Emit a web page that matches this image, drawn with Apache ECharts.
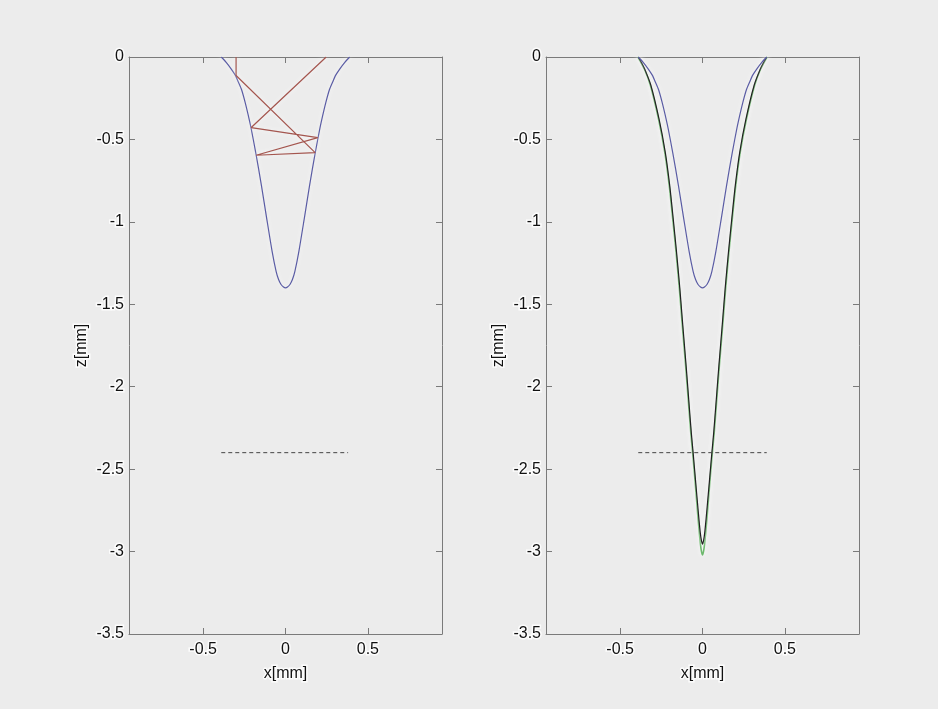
<!DOCTYPE html>
<html>
<head>
<meta charset="utf-8">
<script src="https://cdn.jsdelivr.net/npm/echarts@6/dist/echarts.min.js"></script>
<style>
html,body{margin:0;padding:0;background:#ececec;}
#c{width:938px;height:709px;}
</style>
</head>
<body>
<div id="c"></div>
<script>
// ---- data ----
// x tick values and z tick values
var xTicks = [-0.5, 0, 0.5];
var zTicks = [0, -0.5, -1, -1.5, -2, -2.5, -3, -3.5];

// blue profile (shallow crater), half-profile: depth z and half-width
var blueZ = [0, -0.032, -0.073, -0.113, -0.15, -0.2, -0.275, -0.35, -0.432, -0.578, -0.78, -0.98, -1.18, -1.30, -1.35, -1.38, -1.395, -1.40];
var blueW = [0.39, 0.36, 0.329, 0.303, 0.287, 0.266, 0.245, 0.227, 0.209, 0.181, 0.146, 0.114, 0.081, 0.057, 0.042, 0.027, 0.012, 0];

// black profile (deep crater)
var blackZ = [0, -0.035, -0.073, -0.17, -0.376, -0.578, -0.78, -0.98, -1.18, -1.4, -1.6, -1.879, -2.1, -2.28, -2.4, -2.55, -2.687, -2.8, -2.89, -2.93, -2.955];
var blackW = [0.39, 0.37, 0.351, 0.314, 0.264, 0.226, 0.199, 0.178, 0.158, 0.138, 0.122, 0.099, 0.082, 0.068, 0.057, 0.044, 0.032, 0.022, 0.013, 0.007, 0];

// green profile (slightly deeper)
var greenZ = [0, -0.073, -0.17, -0.376, -0.578, -0.78, -0.98, -1.18, -1.4, -1.6, -1.879, -2.1, -2.28, -2.4, -2.55, -2.687, -2.8, -2.89, -2.96, -3.0, -3.02];
var greenW = [0.392, 0.353, 0.317, 0.267, 0.229, 0.202, 0.181, 0.161, 0.141, 0.125, 0.102, 0.085, 0.071, 0.060, 0.047, 0.036, 0.027, 0.019, 0.012, 0.006, 0];

// reflected ray path (left panel)
var rayX = [-0.30, -0.30, 0.18, -0.178, 0.196, -0.208, 0.247];
var rayZ = [0, -0.112, -0.58, -0.596, -0.489, -0.428, 0];

// dashed reference depth lines
var dashLeftX = [-0.39, 0.38];
var dashRightX = [-0.39, 0.39];
var dashZ = -2.4;

// ---- build point lists ----
function profile(zs, ws) {
  var pts = [];
  for (var i = 0; i < zs.length; i++) pts.push([-ws[i], zs[i]]);
  for (var j = zs.length - 2; j >= 0; j--) pts.push([ws[j], zs[j]]);
  return pts;
}
function pairs(xs, zs) {
  var p = [];
  for (var i = 0; i < xs.length; i++) p.push([xs[i], zs[i]]);
  return p;
}

var FONT = 'Liberation Sans, Arial, Helvetica, sans-serif';
var AXC = '#7a7a7a';
var TXT = {fontFamily: FONT, fontSize: 16, color: '#111', textBorderColor: 'rgba(255,255,255,0.85)', textBorderWidth: 3};

function xAxes(gi) {
  var base = {
    type: 'value', gridIndex: gi, min: -0.95, max: 0.95,
    axisLine: {show: true, onZero: false, lineStyle: {color: AXC, width: 1}},
    axisTick: {show: true, inside: true, length: 6, customValues: xTicks, lineStyle: {color: AXC}},
    splitLine: {show: false}
  };
  var bottom = Object.assign({}, base, {
    position: 'bottom',
    name: 'x[mm]', nameLocation: 'middle', nameGap: 27,
    nameTextStyle: TXT,
    axisLabel: Object.assign({show: true, customValues: xTicks, margin: 8}, TXT)
  });
  var top = Object.assign({}, base, {position: 'top', axisLabel: {show: false}});
  return [bottom, top];
}
function yAxes(gi) {
  var base = {
    type: 'value', gridIndex: gi, min: -3.5, max: 0, interval: 0.5,
    axisLine: {show: true, onZero: false, lineStyle: {color: AXC, width: 1}},
    axisTick: {show: true, inside: true, length: 6, lineStyle: {color: AXC}},
    splitLine: {show: false}
  };
  var left = Object.assign({}, base, {
    position: 'left',
    name: 'z[mm]', nameLocation: 'middle', nameGap: 38, nameRotate: 90,
    nameTextStyle: TXT,
    axisLabel: Object.assign({show: true, margin: 5, customValues: zTicks}, TXT)
  });
  var right = Object.assign({}, base, {position: 'right', axisLabel: {show: false}});
  return [left, right];
}

var xa = xAxes(0).concat(xAxes(1));
var ya = yAxes(0).concat(yAxes(1));

function line(data, xi, yi, color, width, extra) {
  return Object.assign({
    type: 'line', xAxisIndex: xi, yAxisIndex: yi, data: data,
    showSymbol: false, symbol: 'none', smooth: 0.25, animation: false,
    lineStyle: {color: color, width: width, shadowColor: 'rgba(255,255,255,0.9)', shadowBlur: 5}, silent: true
  }, extra || {});
}

var option = {
  backgroundColor: '#ececec',
  animation: false,
  grid: [
    {left: 129, top: 57, width: 313, height: 577},
    {left: 546, top: 57, width: 313, height: 577}
  ],
  xAxis: xa,
  yAxis: ya,
  series: [
    line(profile(blueZ, blueW), 0, 0, '#5a5ca4', 1.2),
    line(pairs(rayX, rayZ), 0, 0, '#a4564f', 1.2, {smooth: false}),
    line(pairs(dashLeftX, [dashZ, dashZ]), 0, 0, '#444', 1, {smooth: false, lineStyle: {color: '#444', width: 1, type: [4, 3]}}),
    line(profile(greenZ, greenW), 2, 2, '#6cb86c', 1.6),
    line(profile(blackZ, blackW), 2, 2, '#222', 1.2),
    line(profile(blueZ, blueW), 2, 2, '#5a5ca4', 1.2),
    line(pairs(dashRightX, [dashZ, dashZ]), 2, 2, '#444', 1, {smooth: false, lineStyle: {color: '#444', width: 1, type: [4, 3]}})
  ]
};
var chart = echarts.init(document.getElementById('c'), null, {renderer: 'canvas'});
chart.setOption(option);
</script>
</body>
</html>
